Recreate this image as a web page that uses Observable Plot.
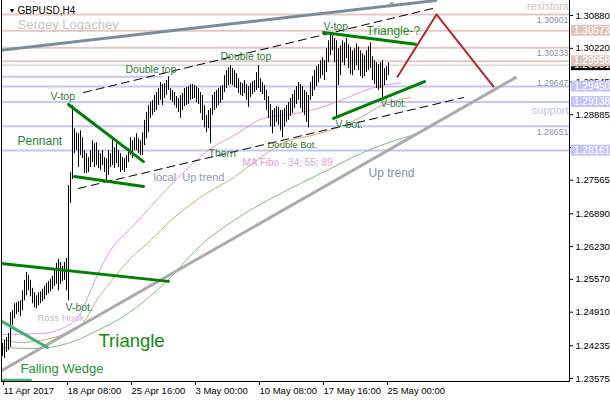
<!DOCTYPE html>
<html><head><meta charset="utf-8">
<script src="https://cdn.jsdelivr.net/npm/d3@7"></script>
<script src="https://cdn.jsdelivr.net/npm/@observablehq/plot@0.6"></script>
<style>body{margin:0;background:#fff}</style>
</head><body><div id="chart"></div>
<script>
// ---- data: GBPUSD H4 bars (bar index = position in array) ----
const barHigh = [
1.2428,1.2434,1.2440,1.2448,1.2490,1.2494,1.2508,1.2510,1.2512,1.2514,
1.2534,1.2555,1.2571,1.2565,1.2555,1.2539,1.2530,1.2524,1.2530,1.2532,
1.2537,1.2543,1.2549,1.2553,1.2557,1.2563,1.2575,1.2589,1.2597,1.2591,
1.2583,1.2591,1.2599,1.2746,1.2772,1.2907,1.2860,1.2852,1.2850,1.2856,
1.2842,1.2816,1.2810,1.2802,1.2816,1.2836,1.2830,1.2832,1.2816,1.2810,
1.2816,1.2802,1.2800,1.2816,1.2810,1.2842,1.2822,1.2830,1.2816,1.2810,
1.2802,1.2800,1.2806,1.2820,1.2842,1.2836,1.2842,1.2850,1.2840,1.2836,
1.2852,1.2877,1.2893,1.2907,1.2913,1.2917,1.2927,1.2933,1.2941,1.2953,
1.2949,1.2951,1.2957,1.2965,1.2941,1.2937,1.2933,1.2925,1.2921,1.2927,
1.2931,1.2941,1.2943,1.2945,1.2949,1.2949,1.2947,1.2945,1.2941,1.2933,
1.2927,1.2907,1.2887,1.2897,1.2901,1.2927,1.2933,1.2937,1.2941,1.2945,
1.2947,1.2967,1.2977,1.2983,1.2987,1.2981,1.2977,1.2971,1.2961,1.2953,
1.2951,1.2957,1.2949,1.2945,1.2951,1.2955,1.2957,1.2973,1.2987,1.2961,
1.2953,1.2947,1.2937,1.2925,1.2909,1.2897,1.2901,1.2905,1.2903,1.2897,
1.2897,1.2901,1.2907,1.2913,1.2921,1.2929,1.2937,1.2945,1.2953,1.2949,
1.2945,1.2937,1.2933,1.2927,1.2953,1.2965,1.2977,1.2985,1.2989,1.2997,
1.3003,1.2997,1.3021,1.3037,1.3050,1.3054,1.3042,1.3037,1.3021,1.3027,
1.3037,1.3033,1.3042,1.3029,1.3023,1.3017,1.3021,1.3031,1.3025,1.3017,
1.3011,1.3007,1.3017,1.3025,1.3033,1.3005,1.2997,1.2993,1.2989,1.2993,
1.2997,1.2981,1.2985,1.2993];
const barLow = [
1.2402,1.2398,1.2410,1.2414,1.2420,1.2464,1.2478,1.2486,1.2490,1.2482,
1.2494,1.2514,1.2524,1.2534,1.2522,1.2508,1.2500,1.2498,1.2504,1.2508,
1.2512,1.2516,1.2524,1.2528,1.2532,1.2537,1.2543,1.2547,1.2534,1.2547,
1.2553,1.2555,1.2534,1.2514,1.2710,1.2758,1.2810,1.2816,1.2782,1.2806,
1.2800,1.2770,1.2770,1.2772,1.2782,1.2792,1.2782,1.2786,1.2780,1.2776,
1.2786,1.2772,1.2752,1.2766,1.2782,1.2786,1.2780,1.2790,1.2782,1.2772,
1.2776,1.2772,1.2780,1.2792,1.2806,1.2800,1.2816,1.2816,1.2810,1.2806,
1.2806,1.2826,1.2840,1.2852,1.2881,1.2887,1.2893,1.2897,1.2907,1.2917,
1.2907,1.2921,1.2927,1.2937,1.2917,1.2913,1.2907,1.2901,1.2893,1.2881,
1.2897,1.2905,1.2907,1.2909,1.2917,1.2919,1.2921,1.2913,1.2909,1.2891,
1.2877,1.2862,1.2852,1.2860,1.2830,1.2887,1.2897,1.2901,1.2907,1.2911,
1.2917,1.2933,1.2941,1.2947,1.2949,1.2947,1.2943,1.2941,1.2931,1.2927,
1.2925,1.2931,1.2917,1.2903,1.2923,1.2929,1.2933,1.2937,1.2941,1.2933,
1.2929,1.2917,1.2897,1.2881,1.2864,1.2850,1.2864,1.2873,1.2867,1.2856,
1.2842,1.2864,1.2873,1.2877,1.2885,1.2891,1.2901,1.2909,1.2917,1.2901,
1.2893,1.2887,1.2873,1.2862,1.2917,1.2925,1.2937,1.2945,1.2953,1.2961,
1.2967,1.2957,1.2973,1.2993,1.3007,1.3017,1.2993,1.2883,1.2947,1.2967,
1.2993,1.2987,1.3001,1.2981,1.2969,1.2967,1.2977,1.2987,1.2977,1.2965,
1.2961,1.2965,1.2973,1.2977,1.2981,1.2957,1.2949,1.2941,1.2937,1.2941,
1.2923,1.2947,1.2957,1.2967];
const lastPrice = 1.29881;

const xTickBars = [0, 32, 64, 96, 128, 160, 192];
const xTickLabels = ["11 Apr 2017","18 Apr 08:00","25 Apr 16:00","3 May 00:00","10 May 08:00","17 May 16:00","25 May 00:00"];
const yTicks = [1.30880,1.30220,1.29545,1.28885,1.28225,1.27565,1.26890,1.26230,1.25570,1.24910,1.24235,1.23575];
const yTicksHiddenLabel = [1.28225]; // covered by a price tag in the reference

const resistLevels = [1.30901, 1.30573, 1.30233, 1.29958];
const supportLevels = [1.29450, 1.29138, 1.28651, 1.28161];
const supportPartial = [1.29647];
const supportPartialStart = [80];
const inlineLevelLabels = [1.30901, 1.30233, 1.29647, 1.28651];
const tagPink = [1.30573, 1.29958];
const tagBlue = [1.29450, 1.29138, 1.28161];

// moving averages (Fibo 34 / 55 / 89), read at sample bars
const ma34Bars = [-1,19,32.5,39,44,49,54,65.5,82.5,99,104,115.5,130.5,144,154,169,184,199];
const ma34Vals = [1.2446,1.2448,1.2464,1.2488,1.2534,1.2579,1.2615,1.2665,1.2740,1.2804,1.2820,1.2846,1.2881,1.2889,1.2897,1.2917,1.2941,1.2953];
const ma55Bars = [-1,9,19,32.5,40.5,47.5,54,64,74,84,99,115.5,132.5,141.5,154,167.5,179,190.5,204];
const ma55Vals = [1.2438,1.2430,1.2434,1.2450,1.2470,1.2518,1.2551,1.2599,1.2635,1.2675,1.2722,1.2762,1.2812,1.2834,1.2846,1.2862,1.2883,1.2909,1.2923];
const ma89Bars = [-1,15.5,32.5,45.5,62.5,82.5,95.5,99,115.5,132.5,149,164,179,199,207.5];
const ma89Vals = [1.2420,1.2418,1.2428,1.2450,1.2488,1.2555,1.2611,1.2625,1.2675,1.2716,1.2750,1.2780,1.2810,1.2840,1.2850];

// drawn trend lines (bar index, price)
const longResBars = [-1, 216.5],  longResPrices = [1.3018, 1.3118];
const upTrendBars = [-1, 256.5],  upTrendPrices = [1.2372, 1.2963];
const chanTopBars = [40.5, 217],  chanTopPrices = [1.2933, 1.3104];
const chanLowBars = [38, 230.5],  chanLowPrices = [1.2740, 1.2923];
const triLeftBars = [-1, 83],     triLeftPrices = [1.2589, 1.2553];
const penTopBars = [33, 70.5],    penTopPrices = [1.2909, 1.2794];
const penLowBars = [36, 70.5],    penLowPrices = [1.2764, 1.2744];
const triTopBars = [160.5, 206.5], triTopPrices = [1.3054, 1.3030];
const triLowBars = [165.5, 211],  triLowPrices = [1.2881, 1.2955];
const wedgeTopBars = [-1, 22.5],  wedgeTopPrices = [1.2474, 1.2420];
const wedgeLowBars = [-1, 14],    wedgeLowPrices = [1.2354, 1.2354];
const forecastBars = [197.5, 217, 245.5], forecastPrices = [1.29647, 1.30901, 1.29450];

// annotations
const labelTexts  = ["Double top","V-top","Pennant","Double top","V-top","Triangle-?","V-bot.","V-bot.","Double Bot.","Thorn","MA Fibo - 34; 55; 89","local  Up trend","Up trend","V-bot.","Ross Hook","Triangle","Falling Wedge"];
const labelBars   = [61.5,24,7.5,109,160.5,182,189,166.5,132.5,103,120,75.5,183,31.5,17.5,48,9];
const labelPrices = [1.2979,1.2925,1.2836,1.3006,1.3066,1.3056,1.2911,1.2869,1.2828,1.2810,1.2792,1.2762,1.2770,1.2500,1.2480,1.2432,1.2376];

// ---- drawing ----
const pts = (b, p) => b.map((x, k) => ({bar: x, price: p[k]}));
const bars = barHigh.map((h, i) => ({i, high: h, low: barLow[i]}));
const font = "'Liberation Sans', Arial, sans-serif";
const G = "#2b7d3b";
const labelSizes  = [10.5,10.5,12,10.5,10.5,12,10,10.5,9.5,10.5,10,11,12,10.5,9.5,18.5,13];
const labelColors = [G,G,G,G,G,"#1f8a2a",G,G,"#3c6e26",G,"#dca0dc","#8a9ab2","#8393aa",G,"#bcbccc","#118c11","#279237"];

const trend = (b, p, o) => Plot.line(pts(b, p), {x: "bar", y: "price", clip: true, ...o});

const plot = Plot.plot({
  width: 610, height: 400,
  marginTop: 0, marginRight: 41, marginBottom: 19, marginLeft: 1,
  x: {type: "linear", domain: [-0.5, 283.5]},
  y: {type: "linear", domain: [1.23515, 1.31182]},
  style: {fontFamily: font, fontSize: "9.5px", background: "#fff", overflow: "visible"},
  marks: [
    Plot.ruleY(resistLevels, {stroke: "#e2cac2", strokeWidth: 2}),
    Plot.ruleY(supportLevels, {stroke: "#c6c6f6", strokeWidth: 2}),
    Plot.ruleY(supportPartial, {x1: supportPartialStart[0], stroke: "#c6c6f6", strokeWidth: 2}),
    Plot.ruleY([lastPrice], {stroke: "#c4c4c4", strokeWidth: 1}),
    Plot.text(inlineLevelLabels, {y: d => d, text: d => d.toFixed(5), frameAnchor: "right", textAnchor: "end", dx: -1, dy: 6, fontSize: 8.8, fill: "#8a94a6"}),
    Plot.text(["resistant"], {frameAnchor: "top-right", textAnchor: "end", lineAnchor: "middle", dx: -1, dy: 6, fontSize: 11, fill: "#dcc2ba"}),
    Plot.text(["support"], {frameAnchor: "right", y: [1.2897], textAnchor: "end", dx: -1, fontSize: 11, fill: "#c2c2f2"}),
    trend(ma89Bars, ma89Vals, {stroke: "#7dbb7d", strokeWidth: 1, curve: "monotone-x"}),
    trend(ma55Bars, ma55Vals, {stroke: "#c4b070", strokeWidth: 1, curve: "monotone-x"}),
    trend(ma34Bars, ma34Vals, {stroke: "#e495e4", strokeWidth: 1, curve: "monotone-x"}),
    trend(longResBars, longResPrices, {stroke: "#7b8b9b", strokeWidth: 3}),
    trend(upTrendBars, upTrendPrices, {stroke: "#ababab", strokeWidth: 3}),
    Plot.ruleX(bars, {x: "i", y1: "low", y2: "high", stroke: "#000", strokeWidth: 1}),
    trend(chanTopBars, chanTopPrices, {stroke: "#000", strokeWidth: 1, strokeDasharray: "8,5"}),
    trend(chanLowBars, chanLowPrices, {stroke: "#000", strokeWidth: 1, strokeDasharray: "8,5"}),
    trend(triLeftBars, triLeftPrices, {stroke: "#008000", strokeWidth: 3}),
    trend(penTopBars, penTopPrices, {stroke: "#008000", strokeWidth: 3}),
    trend(penLowBars, penLowPrices, {stroke: "#008000", strokeWidth: 3}),
    trend(triTopBars, triTopPrices, {stroke: "#008000", strokeWidth: 3}),
    trend(triLowBars, triLowPrices, {stroke: "#008000", strokeWidth: 3}),
    trend(wedgeTopBars, wedgeTopPrices, {stroke: "#3cb371", strokeWidth: 3}),
    trend(wedgeLowBars, wedgeLowPrices, {stroke: "#3cb371", strokeWidth: 3}),
    trend(forecastBars, forecastPrices, {stroke: "#b22a2a", strokeWidth: 2}),
    ...labelTexts.map((t, k) => Plot.text([t], {x: [labelBars[k]], y: [labelPrices[k]], text: d => d, textAnchor: "start", lineAnchor: "middle", fontSize: labelSizes[k], fill: labelColors[k]})),
    Plot.text(["\u25BC"], {frameAnchor: "top-left", dx: 7, dy: 10, lineAnchor: "middle", fontSize: 7, fill: "#000"}),
    Plot.text(["GBPUSD,H4"], {frameAnchor: "top-left", dx: 16, dy: 10, textAnchor: "start", lineAnchor: "middle", fontSize: 10, fill: "#000"}),
    Plot.text(["Sergey Logachev"], {frameAnchor: "top-left", dx: 16, dy: 24, textAnchor: "start", lineAnchor: "middle", fontSize: 13, fill: "#c6c6c6"}),
    Plot.text(["\u25BC"], {x: [194.5], frameAnchor: "top", dy: 4, lineAnchor: "middle", fontSize: 8, fill: "#9a9a9a"}),
    Plot.axisY(yTicks, {anchor: "right", tickSize: 3, tickPadding: 3, tickFormat: d => yTicksHiddenLabel.includes(d) ? "" : d.toFixed(5), fontSize: 9.5, fill: "#000"}),
    Plot.axisX(xTickBars, {anchor: "bottom", tickSize: 4, tickPadding: 2, textAnchor: "start", dx: 1, tickFormat: d => xTickLabels[xTickBars.indexOf(d)], fontSize: 9.5, fill: "#000"}),
    Plot.frame({anchor: "bottom"}),
    Plot.frame({anchor: "right"}),
    Plot.frame({anchor: "left"})
  ]
});
document.getElementById("chart").appendChild(plot);

// price tags on the right axis
const ys = plot.scale("y");
const svg = d3.select(plot);
const tagG = svg.append("g").attr("font-family", font).attr("font-size", 10).attr("text-anchor", "start");
function tag(v, bg, fg) {
  const yy = ys.apply(v);
  tagG.append("rect").attr("x", 571).attr("y", yy - 5.5).attr("width", 39).attr("height", 11).attr("fill", bg);
  tagG.append("text").attr("x", 574).attr("y", yy + 3.6).attr("text-anchor", "start").attr("fill", fg).text(v.toFixed(5));
}
tag(lastPrice, "#000", "#fff");
tagPink.forEach(v => tag(v, "#dfc4bb", "#fff"));
tagBlue.forEach(v => tag(v, "#c4c4f6", "#fff"));
</script></body></html>
